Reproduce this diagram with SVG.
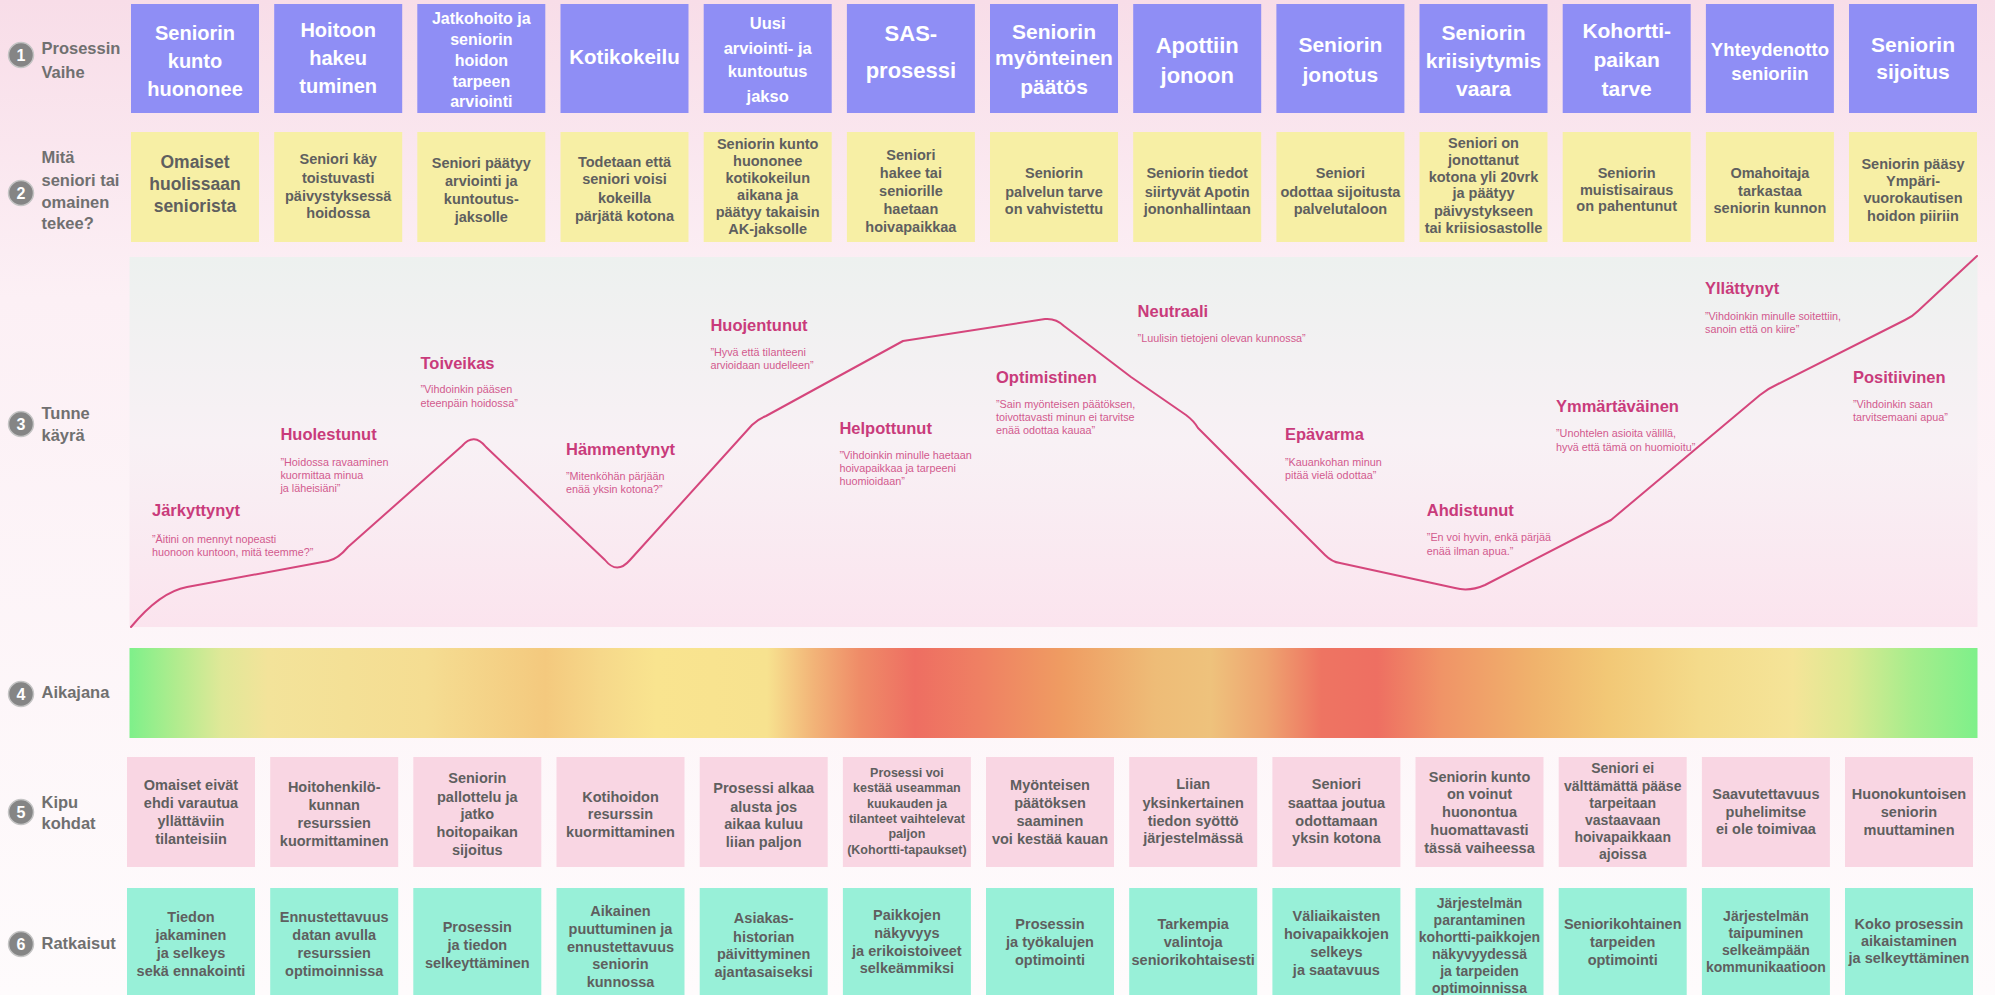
<svg xmlns="http://www.w3.org/2000/svg" width="1995" height="995" viewBox="0 0 1995 995">
<defs>
<linearGradient id="bg" x1="0" y1="0" x2="0" y2="1">
<stop offset="0" stop-color="#f8dde8"/>
<stop offset="0.3" stop-color="#fcf0f5"/>
<stop offset="1" stop-color="#fefbfc"/>
</linearGradient>
<linearGradient id="panel" x1="0" y1="0" x2="0" y2="1">
<stop offset="0" stop-color="#edf1ef"/>
<stop offset="0.5" stop-color="#f8f1f5"/>
<stop offset="1" stop-color="#fbe4ee"/>
</linearGradient>
<linearGradient id="time" x1="0" y1="0" x2="1" y2="0">
<stop offset="0" stop-color="#7ef08a"/>
<stop offset="0.025" stop-color="#b0ec8e"/>
<stop offset="0.05" stop-color="#e0e898"/>
<stop offset="0.075" stop-color="#f3e39a"/>
<stop offset="0.16" stop-color="#f5dd92"/>
<stop offset="0.225" stop-color="#f4c97e"/>
<stop offset="0.255" stop-color="#f6d88a"/>
<stop offset="0.285" stop-color="#f9e48f"/>
<stop offset="0.345" stop-color="#f7e28f"/>
<stop offset="0.37" stop-color="#f2b478"/>
<stop offset="0.395" stop-color="#ef8c68"/>
<stop offset="0.425" stop-color="#ee6e62"/>
<stop offset="0.46" stop-color="#ef8063"/>
<stop offset="0.505" stop-color="#ef9c62"/>
<stop offset="0.555" stop-color="#eebc77"/>
<stop offset="0.585" stop-color="#eec27c"/>
<stop offset="0.615" stop-color="#eea470"/>
<stop offset="0.645" stop-color="#ee7462"/>
<stop offset="0.675" stop-color="#ee6f62"/>
<stop offset="0.71" stop-color="#f09467"/>
<stop offset="0.76" stop-color="#f0b26c"/>
<stop offset="0.8" stop-color="#f2c876"/>
<stop offset="0.85" stop-color="#f4db8b"/>
<stop offset="0.9" stop-color="#f5e498"/>
<stop offset="0.93" stop-color="#dce992"/>
<stop offset="0.965" stop-color="#a6ed8c"/>
<stop offset="1" stop-color="#7ef08a"/>
</linearGradient>
<style>
.b1{fill:#8f8ef5}
.b2{fill:#f7efa5}
.b5{fill:#f9d6e3}
.b6{fill:#98f0d8}
text{font-family:'Liberation Sans',Arial,sans-serif}
.t1{font-weight:bold;fill:#ffffff;text-anchor:middle}
.t2{font-weight:bold;fill:#5f5f5f;text-anchor:middle;font-size:14.5px}
.lab{font-weight:bold;font-size:16.5px;fill:#707070}
.circ{fill:#858585;stroke:#c4c4c4;stroke-width:1.5}
.num{font-weight:bold;font-size:16px;fill:#ffffff;text-anchor:middle}
.emo{font-weight:bold;font-size:16.5px;fill:#c93b7b}
.quo{font-size:10.8px;fill:#d25a8e}
.curve{fill:none;stroke:#d5467c;stroke-width:2;stroke-linejoin:round;stroke-linecap:round}
</style>
</defs>
<rect x="0" y="0" width="1995" height="995" fill="url(#bg)"/>

<g id="row-labels">
<circle class="circ" cx="21" cy="55" r="12.5"/><text class="num" x="21" y="60.7">1</text>
<text class="lab" x="41.5" y="54">Prosessin</text><text class="lab" x="41.5" y="77.5">Vaihe</text>
<circle class="circ" cx="21" cy="193" r="12.5"/><text class="num" x="21" y="198.7">2</text>
<text class="lab" x="41.5" y="162.5">Mitä</text><text class="lab" x="41.5" y="185.8">seniori tai</text><text class="lab" x="41.5" y="207.5">omainen</text><text class="lab" x="41.5" y="228.5">tekee?</text>
<circle class="circ" cx="21" cy="424" r="12.5"/><text class="num" x="21" y="429.7">3</text>
<text class="lab" x="41.5" y="418.8">Tunne</text><text class="lab" x="41.5" y="440.8">käyrä</text>
<circle class="circ" cx="21" cy="694" r="12.5"/><text class="num" x="21" y="699.7">4</text>
<text class="lab" x="41.5" y="697.5">Aikajana</text>
<circle class="circ" cx="21" cy="812" r="12.5"/><text class="num" x="21" y="817.7">5</text>
<text class="lab" x="41.5" y="807.5">Kipu</text><text class="lab" x="41.5" y="828.5">kohdat</text>
<circle class="circ" cx="21" cy="944" r="12.5"/><text class="num" x="21" y="949.7">6</text>
<text class="lab" x="41.5" y="949">Ratkaisut</text>
</g>

<!-- Row 1: process phases -->
<g id="phase-1"><rect class="b1" x="131" y="4" width="128" height="109"/><text class="t1" font-size="20"><tspan x="195" y="39.8">Seniorin</tspan><tspan x="195" y="67.8">kunto</tspan><tspan x="195" y="95.8">huononee</tspan></text></g>
<g id="phase-2"><rect class="b1" x="274.2" y="4" width="128" height="109"/><text class="t1" font-size="20"><tspan x="338.2" y="36.8">Hoitoon</tspan><tspan x="338.2" y="64.8">hakeu</tspan><tspan x="338.2" y="92.8">tuminen</tspan></text></g>
<g id="phase-3"><rect class="b1" x="417.3" y="4" width="128" height="109"/><text class="t1" font-size="16"><tspan x="481.3" y="23.7">Jatkohoito ja</tspan><tspan x="481.3" y="45.4">seniorin</tspan><tspan x="481.3" y="66.4">hoidon</tspan><tspan x="481.3" y="87.1">tarpeen</tspan><tspan x="481.3" y="107.1">arviointi</tspan></text></g>
<g id="phase-4"><rect class="b1" x="560.5" y="4" width="128" height="109"/><text class="t1" font-size="20.5"><tspan x="624.5" y="63.7">Kotikokeilu</tspan></text></g>
<g id="phase-5"><rect class="b1" x="703.7" y="4" width="128" height="109"/><text class="t1" font-size="16.5"><tspan x="767.7" y="29">Uusi</tspan><tspan x="767.7" y="54">arviointi- ja</tspan><tspan x="767.7" y="77.3">kuntoutus</tspan><tspan x="767.7" y="102.3">jakso</tspan></text></g>
<g id="phase-6"><rect class="b1" x="846.9" y="4" width="128" height="109"/><text class="t1" font-size="22"><tspan x="910.9" y="41">SAS-</tspan><tspan x="910.9" y="78.3">prosessi</tspan></text></g>
<g id="phase-7"><rect class="b1" x="990" y="4" width="128" height="109"/><text class="t1" font-size="21"><tspan x="1054" y="38.8">Seniorin</tspan><tspan x="1054" y="65.4">myönteinen</tspan><tspan x="1054" y="93.8">päätös</tspan></text></g>
<g id="phase-8"><rect class="b1" x="1133.2" y="4" width="128" height="109"/><text class="t1" font-size="22"><tspan x="1197.2" y="52.5">Apottiin</tspan><tspan x="1197.2" y="82.5">jonoon</tspan></text></g>
<g id="phase-9"><rect class="b1" x="1276.4" y="4" width="128" height="109"/><text class="t1" font-size="21"><tspan x="1340.4" y="52">Seniorin</tspan><tspan x="1340.4" y="82">jonotus</tspan></text></g>
<g id="phase-10"><rect class="b1" x="1419.5" y="4" width="128" height="109"/><text class="t1" font-size="21"><tspan x="1483.5" y="39.6">Seniorin</tspan><tspan x="1483.5" y="67.6">kriisiytymis</tspan><tspan x="1483.5" y="95.6">vaara</tspan></text></g>
<g id="phase-11"><rect class="b1" x="1562.7" y="4" width="128" height="109"/><text class="t1" font-size="21"><tspan x="1626.7" y="38">Kohortti-</tspan><tspan x="1626.7" y="67">paikan</tspan><tspan x="1626.7" y="96">tarve</tspan></text></g>
<g id="phase-12"><rect class="b1" x="1705.9" y="4" width="128" height="109"/><text class="t1" font-size="18.5"><tspan x="1769.9" y="56.3">Yhteydenotto</tspan><tspan x="1769.9" y="79.6">senioriin</tspan></text></g>
<g id="phase-13"><rect class="b1" x="1849" y="4" width="128" height="109"/><text class="t1" font-size="21"><tspan x="1913" y="52">Seniorin</tspan><tspan x="1913" y="78.7">sijoitus</tspan></text></g>

<!-- Row 2: what senior does -->
<g id="action-1"><rect class="b2" x="131" y="132" width="128" height="110"/><text class="t2" style="font-size:17.5px"><tspan x="195" y="168.3">Omaiset</tspan><tspan x="195" y="190.3">huolissaan</tspan><tspan x="195" y="212">seniorista</tspan></text></g>
<g id="action-2"><rect class="b2" x="274.2" y="132" width="128" height="110"/><text class="t2"><tspan x="338.2" y="164.3">Seniori käy</tspan><tspan x="338.2" y="182.7">toistuvasti</tspan><tspan x="338.2" y="201">päivystyksessä</tspan><tspan x="338.2" y="218.3">hoidossa</tspan></text></g>
<g id="action-3"><rect class="b2" x="417.3" y="132" width="128" height="110"/><text class="t2"><tspan x="481.3" y="168.3">Seniori päätyy</tspan><tspan x="481.3" y="186">arviointi ja</tspan><tspan x="481.3" y="204.3">kuntoutus-</tspan><tspan x="481.3" y="221.7">jaksolle</tspan></text></g>
<g id="action-4"><rect class="b2" x="560.5" y="132" width="128" height="110"/><text class="t2"><tspan x="624.5" y="166.7">Todetaan että</tspan><tspan x="624.5" y="184.3">seniori voisi</tspan><tspan x="624.5" y="202.7">kokeilla</tspan><tspan x="624.5" y="220.7">pärjätä kotona</tspan></text></g>
<g id="action-5"><rect class="b2" x="703.7" y="132" width="128" height="110"/><text class="t2"><tspan x="767.7" y="149.2">Seniorin kunto</tspan><tspan x="767.7" y="166.2">huononee</tspan><tspan x="767.7" y="183.2">kotikokeilun</tspan><tspan x="767.7" y="200.2">aikana ja</tspan><tspan x="767.7" y="217.2">päätyy takaisin</tspan><tspan x="767.7" y="234.2">AK-jaksolle</tspan></text></g>
<g id="action-6"><rect class="b2" x="846.9" y="132" width="128" height="110"/><text class="t2"><tspan x="910.9" y="160">Seniori</tspan><tspan x="910.9" y="178.3">hakee tai</tspan><tspan x="910.9" y="196">seniorille</tspan><tspan x="910.9" y="214">haetaan</tspan><tspan x="910.9" y="231.7">hoivapaikkaa</tspan></text></g>
<g id="action-7"><rect class="b2" x="990" y="132" width="128" height="110"/><text class="t2"><tspan x="1054" y="178.3">Seniorin</tspan><tspan x="1054" y="196.7">palvelun tarve</tspan><tspan x="1054" y="214.3">on vahvistettu</tspan></text></g>
<g id="action-8"><rect class="b2" x="1133.2" y="132" width="128" height="110"/><text class="t2"><tspan x="1197.2" y="178.3">Seniorin tiedot</tspan><tspan x="1197.2" y="196.7">siirtyvät Apotin</tspan><tspan x="1197.2" y="214.3">jononhallintaan</tspan></text></g>
<g id="action-9"><rect class="b2" x="1276.4" y="132" width="128" height="110"/><text class="t2"><tspan x="1340.4" y="178.3">Seniori</tspan><tspan x="1340.4" y="196.7">odottaa sijoitusta</tspan><tspan x="1340.4" y="214.3">palvelutaloon</tspan></text></g>
<g id="action-10"><rect class="b2" x="1419.5" y="132" width="128" height="110"/><text class="t2"><tspan x="1483.5" y="148.3">Seniori on</tspan><tspan x="1483.5" y="165">jonottanut</tspan><tspan x="1483.5" y="181.7">kotona yli 20vrk</tspan><tspan x="1483.5" y="198.3">ja päätyy</tspan><tspan x="1483.5" y="215.7">päivystykseen</tspan><tspan x="1483.5" y="233.3">tai kriisiosastolle</tspan></text></g>
<g id="action-11"><rect class="b2" x="1562.7" y="132" width="128" height="110"/><text class="t2"><tspan x="1626.7" y="178.3">Seniorin</tspan><tspan x="1626.7" y="194.5">muistisairaus</tspan><tspan x="1626.7" y="211">on pahentunut</tspan></text></g>
<g id="action-12"><rect class="b2" x="1705.9" y="132" width="128" height="110"/><text class="t2"><tspan x="1769.9" y="178.3">Omahoitaja</tspan><tspan x="1769.9" y="195.7">tarkastaa</tspan><tspan x="1769.9" y="213.3">seniorin kunnon</tspan></text></g>
<g id="action-13"><rect class="b2" x="1849" y="132" width="128" height="110"/><text class="t2"><tspan x="1913" y="169">Seniorin pääsy</tspan><tspan x="1913" y="186">Ympäri-</tspan><tspan x="1913" y="203.3">vuorokautisen</tspan><tspan x="1913" y="221">hoidon piiriin</tspan></text></g>

<!-- Emotion curve panel -->
<g id="emotion-panel">
<rect x="129.5" y="257" width="1848" height="370" fill="url(#panel)"/>
</g>
<g id="connectors">
<path class="curve" d="M131,627 Q160,592 187,587 L328,561 Q338,559 348,547 L462,446 Q474,432 486,447 L605,560 Q617,575 630,560 L752,425 Q758,419 766,416 L903,341 L1045,319 Q1056,318 1064,326 L1131,377 L1186,415 Q1194,421 1198,428 L1325,555 Q1332,562 1340,563 L1455,588 Q1469,592 1485,585 L1611,520 L1760,395 Q1769,388 1778,384 L1905,320 Q1912,317 1918,311 L1977,256"/>
</g>

<g id="emo-jarkyttynyt"><text class="emo" x="152" y="516">Järkyttynyt</text><text class="quo"><tspan x="152" y="543.3">”Äitini on mennyt nopeasti</tspan><tspan x="152" y="556.3">huonoon kuntoon, mitä teemme?”</tspan></text></g>
<g id="emo-huolestunut"><text class="emo" x="280.4" y="440.3">Huolestunut</text><text class="quo"><tspan x="280.4" y="465.7">”Hoidossa ravaaminen</tspan><tspan x="280.4" y="479">kuormittaa minua</tspan><tspan x="280.4" y="492.3">ja läheisiäni”</tspan></text></g>
<g id="emo-toiveikas"><text class="emo" x="420.5" y="368.7">Toiveikas</text><text class="quo"><tspan x="420.5" y="393.3">”Vihdoinkin pääsen</tspan><tspan x="420.5" y="406.7">eteenpäin hoidossa”</tspan></text></g>
<g id="emo-hammentynyt"><text class="emo" x="566" y="455.3">Hämmentynyt</text><text class="quo"><tspan x="566" y="480">”Mitenköhän pärjään</tspan><tspan x="566" y="493.3">enää yksin kotona?”</tspan></text></g>
<g id="emo-huojentunut"><text class="emo" x="710.4" y="331">Huojentunut</text><text class="quo"><tspan x="710.4" y="355.7">”Hyvä että tilanteeni</tspan><tspan x="710.4" y="369">arvioidaan uudelleen”</tspan></text></g>
<g id="emo-helpottunut"><text class="emo" x="839.4" y="433.7">Helpottunut</text><text class="quo"><tspan x="839.4" y="458.7">”Vihdoinkin minulle haetaan</tspan><tspan x="839.4" y="472.3">hoivapaikkaa ja tarpeeni</tspan><tspan x="839.4" y="485">huomioidaan”</tspan></text></g>
<g id="emo-optimistinen"><text class="emo" x="996" y="382.7">Optimistinen</text><text class="quo"><tspan x="996" y="408">”Sain myönteisen päätöksen,</tspan><tspan x="996" y="420.7">toivottavasti minun ei tarvitse</tspan><tspan x="996" y="434">enää odottaa kauaa”</tspan></text></g>
<g id="emo-neutraali"><text class="emo" x="1137.6" y="317">Neutraali</text><text class="quo"><tspan x="1137.6" y="342.3">”Luulisin tietojeni olevan kunnossa”</tspan></text></g>
<g id="emo-epavarma"><text class="emo" x="1285" y="440.3">Epävarma</text><text class="quo"><tspan x="1285" y="465.7">”Kauankohan minun</tspan><tspan x="1285" y="479">pitää vielä odottaa”</tspan></text></g>
<g id="emo-ahdistunut"><text class="emo" x="1426.8" y="516">Ahdistunut</text><text class="quo"><tspan x="1426.8" y="541.3">”En voi hyvin, enkä pärjää</tspan><tspan x="1426.8" y="554.7">enää ilman apua.”</tspan></text></g>
<g id="emo-ymmartavainen"><text class="emo" x="1556" y="412">Ymmärtäväinen</text><text class="quo"><tspan x="1556" y="437.3">”Unohtelen asioita välillä,</tspan><tspan x="1556" y="450.7">hyvä että tämä on huomioitu”</tspan></text></g>
<g id="emo-yllattynyt"><text class="emo" x="1705" y="294.3">Yllättynyt</text><text class="quo"><tspan x="1705" y="320">”Vihdoinkin minulle soitettiin,</tspan><tspan x="1705" y="333.3">sanoin että on kiire”</tspan></text></g>
<g id="emo-positiivinen"><text class="emo" x="1853" y="382.7">Positiivinen</text><text class="quo"><tspan x="1853" y="408">”Vihdoinkin saan</tspan><tspan x="1853" y="420.7">tarvitsemaani apua”</tspan></text></g>

<!-- Timeline -->
<g id="timeline"><rect x="129.5" y="648" width="1848" height="90" fill="url(#time)"/></g>

<!-- Row 5: pain points -->
<g id="pain-1"><rect class="b5" x="127" y="757" width="128" height="110"/><text class="t2"><tspan x="191" y="790">Omaiset eivät</tspan><tspan x="191" y="808.3">ehdi varautua</tspan><tspan x="191" y="826">yllättäviin</tspan><tspan x="191" y="844">tilanteisiin</tspan></text></g>
<g id="pain-2"><rect class="b5" x="270.2" y="757" width="128" height="110"/><text class="t2"><tspan x="334.2" y="791.7">Hoitohenkilö-</tspan><tspan x="334.2" y="810">kunnan</tspan><tspan x="334.2" y="827.7">resurssien</tspan><tspan x="334.2" y="845.7">kuormittaminen</tspan></text></g>
<g id="pain-3"><rect class="b5" x="413.3" y="757" width="128" height="110"/><text class="t2"><tspan x="477.3" y="783.3">Seniorin</tspan><tspan x="477.3" y="801.7">pallottelu ja</tspan><tspan x="477.3" y="819.3">jatko</tspan><tspan x="477.3" y="837.3">hoitopaikan</tspan><tspan x="477.3" y="855">sijoitus</tspan></text></g>
<g id="pain-4"><rect class="b5" x="556.5" y="757" width="128" height="110"/><text class="t2"><tspan x="620.5" y="801.7">Kotihoidon</tspan><tspan x="620.5" y="819.3">resurssin</tspan><tspan x="620.5" y="837.3">kuormittaminen</tspan></text></g>
<g id="pain-5"><rect class="b5" x="699.7" y="757" width="128" height="110"/><text class="t2"><tspan x="763.7" y="793.3">Prosessi alkaa</tspan><tspan x="763.7" y="811.7">alusta jos</tspan><tspan x="763.7" y="829.3">aikaa kuluu</tspan><tspan x="763.7" y="847.3">liian paljon</tspan></text></g>
<g id="pain-6"><rect class="b5" x="842.9" y="757" width="128" height="110"/><text class="t2" style="font-size:12.5px"><tspan x="906.9" y="776.6">Prosessi voi</tspan><tspan x="906.9" y="792">kestää useamman</tspan><tspan x="906.9" y="807.6">kuukauden ja</tspan><tspan x="906.9" y="823">tilanteet vaihtelevat</tspan><tspan x="906.9" y="838.3">paljon</tspan><tspan x="906.9" y="854.3">(Kohortti-tapaukset)</tspan></text></g>
<g id="pain-7"><rect class="b5" x="986" y="757" width="128" height="110"/><text class="t2"><tspan x="1050" y="790">Myönteisen</tspan><tspan x="1050" y="808.3">päätöksen</tspan><tspan x="1050" y="826">saaminen</tspan><tspan x="1050" y="844">voi kestää kauan</tspan></text></g>
<g id="pain-8"><rect class="b5" x="1129.2" y="757" width="128" height="110"/><text class="t2"><tspan x="1193.2" y="789.3">Liian</tspan><tspan x="1193.2" y="807.7">yksinkertainen</tspan><tspan x="1193.2" y="825.7">tiedon syöttö</tspan><tspan x="1193.2" y="843.3">järjestelmässä</tspan></text></g>
<g id="pain-9"><rect class="b5" x="1272.4" y="757" width="128" height="110"/><text class="t2"><tspan x="1336.4" y="789.3">Seniori</tspan><tspan x="1336.4" y="807.7">saattaa joutua</tspan><tspan x="1336.4" y="825.7">odottamaan</tspan><tspan x="1336.4" y="843.3">yksin kotona</tspan></text></g>
<g id="pain-10"><rect class="b5" x="1415.5" y="757" width="128" height="110"/><text class="t2"><tspan x="1479.5" y="781.7">Seniorin kunto</tspan><tspan x="1479.5" y="799.3">on voinut</tspan><tspan x="1479.5" y="817.3">huonontua</tspan><tspan x="1479.5" y="835">huomattavasti</tspan><tspan x="1479.5" y="853.3">tässä vaiheessa</tspan></text></g>
<g id="pain-11"><rect class="b5" x="1558.7" y="757" width="128" height="110"/><text class="t2" style="font-size:14px"><tspan x="1622.7" y="773.1">Seniori ei</tspan><tspan x="1622.7" y="790.5">välttämättä pääse</tspan><tspan x="1622.7" y="807.5">tarpeitaan</tspan><tspan x="1622.7" y="824.8">vastaavaan</tspan><tspan x="1622.7" y="841.5">hoivapaikkaan</tspan><tspan x="1622.7" y="858.8">ajoissa</tspan></text></g>
<g id="pain-12"><rect class="b5" x="1701.9" y="757" width="128" height="110"/><text class="t2"><tspan x="1765.9" y="799">Saavutettavuus</tspan><tspan x="1765.9" y="816.7">puhelimitse</tspan><tspan x="1765.9" y="834.3">ei ole toimivaa</tspan></text></g>
<g id="pain-13"><rect class="b5" x="1845" y="757" width="128" height="110"/><text class="t2"><tspan x="1909" y="799.3">Huonokuntoisen</tspan><tspan x="1909" y="817.3">seniorin</tspan><tspan x="1909" y="835">muuttaminen</tspan></text></g>

<!-- Row 6: solutions -->
<g id="solution-1"><rect class="b6" x="127" y="888" width="128" height="117"/><text class="t2"><tspan x="191" y="921.7">Tiedon</tspan><tspan x="191" y="940">jakaminen</tspan><tspan x="191" y="957.7">ja selkeys</tspan><tspan x="191" y="975.7">sekä ennakointi</tspan></text></g>
<g id="solution-2"><rect class="b6" x="270.2" y="888" width="128" height="117"/><text class="t2"><tspan x="334.2" y="921.7">Ennustettavuus</tspan><tspan x="334.2" y="940">datan avulla</tspan><tspan x="334.2" y="957.7">resurssien</tspan><tspan x="334.2" y="975.7">optimoinnissa</tspan></text></g>
<g id="solution-3"><rect class="b6" x="413.3" y="888" width="128" height="117"/><text class="t2"><tspan x="477.3" y="931.7">Prosessin</tspan><tspan x="477.3" y="950">ja tiedon</tspan><tspan x="477.3" y="967.7">selkeyttäminen</tspan></text></g>
<g id="solution-4"><rect class="b6" x="556.5" y="888" width="128" height="117"/><text class="t2"><tspan x="620.5" y="916">Aikainen</tspan><tspan x="620.5" y="934">puuttuminen ja</tspan><tspan x="620.5" y="951.7">ennustettavuus</tspan><tspan x="620.5" y="969.3">seniorin</tspan><tspan x="620.5" y="987.3">kunnossa</tspan></text></g>
<g id="solution-5"><rect class="b6" x="699.7" y="888" width="128" height="117"/><text class="t2"><tspan x="763.7" y="923.3">Asiakas-</tspan><tspan x="763.7" y="941.7">historian</tspan><tspan x="763.7" y="959">päivittyminen</tspan><tspan x="763.7" y="976.7">ajantasaiseksi</tspan></text></g>
<g id="solution-6"><rect class="b6" x="842.9" y="888" width="128" height="117"/><text class="t2"><tspan x="906.9" y="920">Paikkojen</tspan><tspan x="906.9" y="937.7">näkyvyys</tspan><tspan x="906.9" y="955.7">ja erikoistoiveet</tspan><tspan x="906.9" y="973.3">selkeämmiksi</tspan></text></g>
<g id="solution-7"><rect class="b6" x="986" y="888" width="128" height="117"/><text class="t2"><tspan x="1050" y="929">Prosessin</tspan><tspan x="1050" y="947.3">ja työkalujen</tspan><tspan x="1050" y="965">optimointi</tspan></text></g>
<g id="solution-8"><rect class="b6" x="1129.2" y="888" width="128" height="117"/><text class="t2"><tspan x="1193.2" y="929">Tarkempia</tspan><tspan x="1193.2" y="947.3">valintoja</tspan><tspan x="1193.2" y="965">seniorikohtaisesti</tspan></text></g>
<g id="solution-9"><rect class="b6" x="1272.4" y="888" width="128" height="117"/><text class="t2"><tspan x="1336.4" y="921">Väliaikaisten</tspan><tspan x="1336.4" y="939.3">hoivapaikkojen</tspan><tspan x="1336.4" y="957.3">selkeys</tspan><tspan x="1336.4" y="975">ja saatavuus</tspan></text></g>
<g id="solution-10"><rect class="b6" x="1415.5" y="888" width="128" height="117"/><text class="t2" style="font-size:14px"><tspan x="1479.5" y="907.5">Järjestelmän</tspan><tspan x="1479.5" y="924.8">parantaminen</tspan><tspan x="1479.5" y="941.5">kohortti-paikkojen</tspan><tspan x="1479.5" y="958.8">näkyvyydessä</tspan><tspan x="1479.5" y="975.8">ja tarpeiden</tspan><tspan x="1479.5" y="993.1">optimoinnissa</tspan></text></g>
<g id="solution-11"><rect class="b6" x="1558.7" y="888" width="128" height="117"/><text class="t2"><tspan x="1622.7" y="929">Seniorikohtainen</tspan><tspan x="1622.7" y="947.3">tarpeiden</tspan><tspan x="1622.7" y="965">optimointi</tspan></text></g>
<g id="solution-12"><rect class="b6" x="1701.9" y="888" width="128" height="117"/><text class="t2" style="font-size:14px"><tspan x="1765.9" y="920.8">Järjestelmän</tspan><tspan x="1765.9" y="937.5">taipuminen</tspan><tspan x="1765.9" y="954.8">selkeämpään</tspan><tspan x="1765.9" y="971.5">kommunikaatioon</tspan></text></g>
<g id="solution-13"><rect class="b6" x="1845" y="888" width="128" height="117"/><text class="t2"><tspan x="1909" y="929">Koko prosessin</tspan><tspan x="1909" y="945.7">aikaistaminen</tspan><tspan x="1909" y="963.3">ja selkeyttäminen</tspan></text></g>
</svg>
